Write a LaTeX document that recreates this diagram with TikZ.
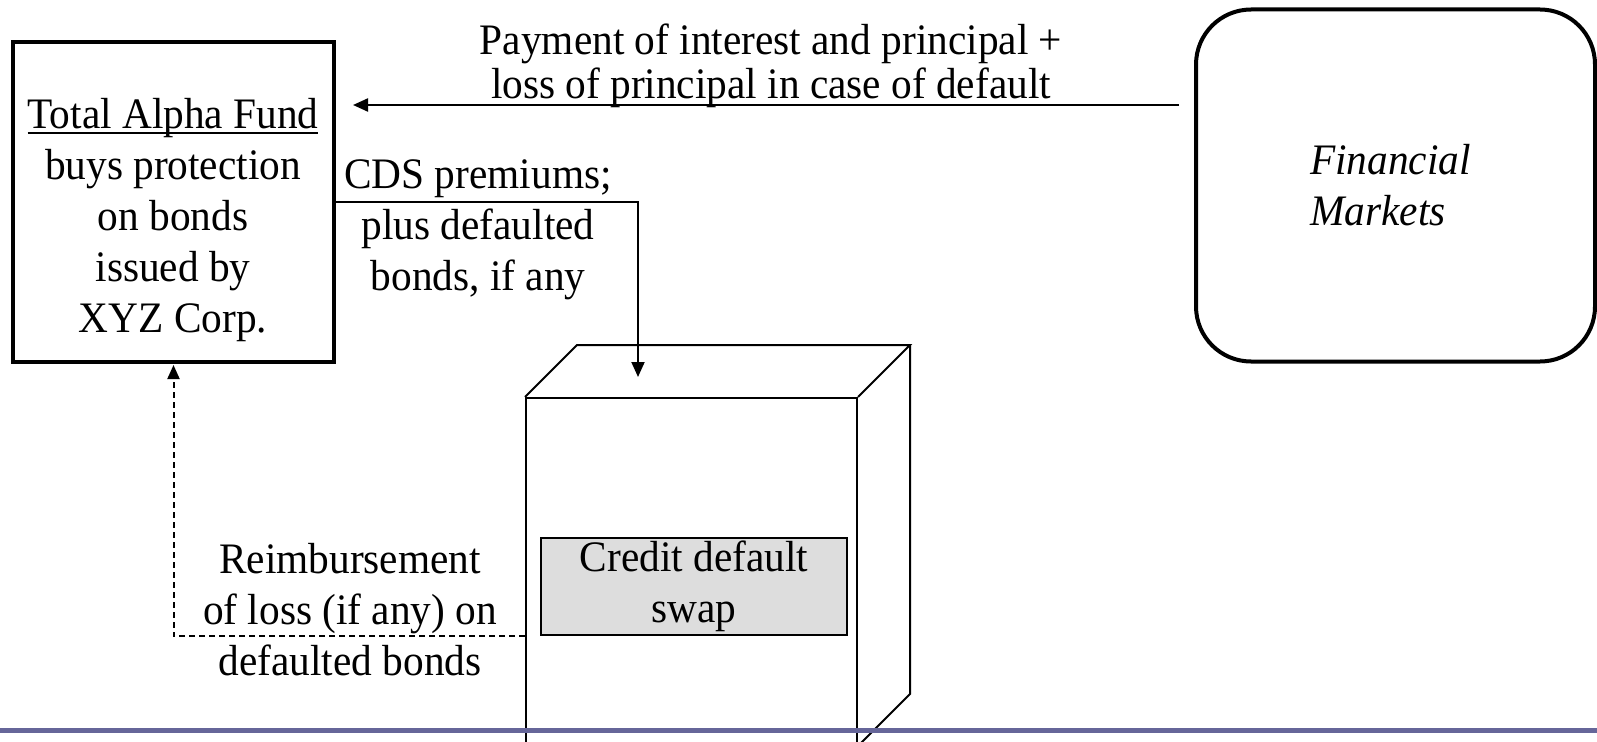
\documentclass[tikz,border=0pt]{standalone}
\usepackage{fontspec}
\setmainfont{Liberation Serif}[FakeStretch=0.95]
\usetikzlibrary{arrows.meta,calc}
% underline that sits just under the baseline
\newcommand\myuline[1]{\setbox0\hbox{#1}\rlap{\rule[-5pt]{\wd0}{2pt}}\box0}
\definecolor{rulecol}{RGB}{102,102,153}
\definecolor{swapgrey}{RGB}{221,221,221}
\begin{document}
\begin{tikzpicture}[x=1pt,y=-1pt,
  txt/.style={font=\fontsize{43.5}{51}\selectfont, align=center, inner sep=0pt},
  edge/.style={line width=2pt, line join=miter},
  arr/.style={line width=2.2pt, -{Triangle[length=15pt,width=13pt]}},
  dasharr/.style={line width=2pt, dash pattern=on 6pt off 4pt, -{Triangle[length=14pt,width=12pt]}}
]
\useasboundingbox (0,0) rectangle (1597,741);
\clip (0,0) rectangle (1597,741);

% the two parties
\node[draw, line width=4pt, minimum width=321pt, minimum height=320pt, inner sep=0pt] (fund) at (173.5,202) {};
\node[txt] (fundtext) at (173,220.5) {\myuline{Total Alpha Fund}\\buys protection\\on bonds\\issued by\\XYZ Corp.};

\node[draw, line width=4pt, rounded corners=55pt, minimum width=399pt, minimum height=352pt, inner sep=0pt] (fm) at (1395.5,185.5) {};
\node[txt, align=left, anchor=west, font=\fontsize{43.5}{51}\selectfont\itshape] (fmtext) at (1310,185) {Financial\\Markets};

% the swap, drawn as a box in perspective
\node[edge, draw, minimum width=331pt, minimum height=362pt, inner sep=0pt] (front) at (691.5,579) {};
\draw[edge] (front.north west) -- ++(52,-52) coordinate (backnw)
  -- ($(front.north east)+(52,-52)$) coordinate (backne) -- (front.north east);
\draw[edge] (backne) -- ++(0,349) coordinate (backse) -- ++(-52,52);
\node[draw, line width=2pt, fill=swapgrey, minimum width=306pt, minimum height=97pt, inner sep=0pt,
      txt] (cds) at (694,586.5) {Credit default\\swap};

% flows
\coordinate (payy) at (0,105);
\draw[arr, shorten <=15pt, shorten >=17pt] (fm.west |- payy) -- (fund.east |- payy);
\node[txt, font=\fontsize{43.5}{44}\selectfont] (paytext) at (771,65.5)
  {Payment of interest and principal +\\loss of principal in case of default};

\coordinate (cdsin) at (638,377);
\draw[arr, line width=2pt] (fund.east) -| (cdsin);
\node[txt] (premtext) at (478,230) {CDS premiums;\\plus defaulted\\bonds, if any};

\draw[dasharr, shorten >=1pt] (front.west |- cds.south) -| (fund.south);
\node[txt] (reimtext) at (350,610) {Reimbursement\\of loss (if any) on\\defaulted bonds};

% footer rule
\fill[rulecol] (0,728) rectangle (1597,732.5);
\end{tikzpicture}
\end{document}
